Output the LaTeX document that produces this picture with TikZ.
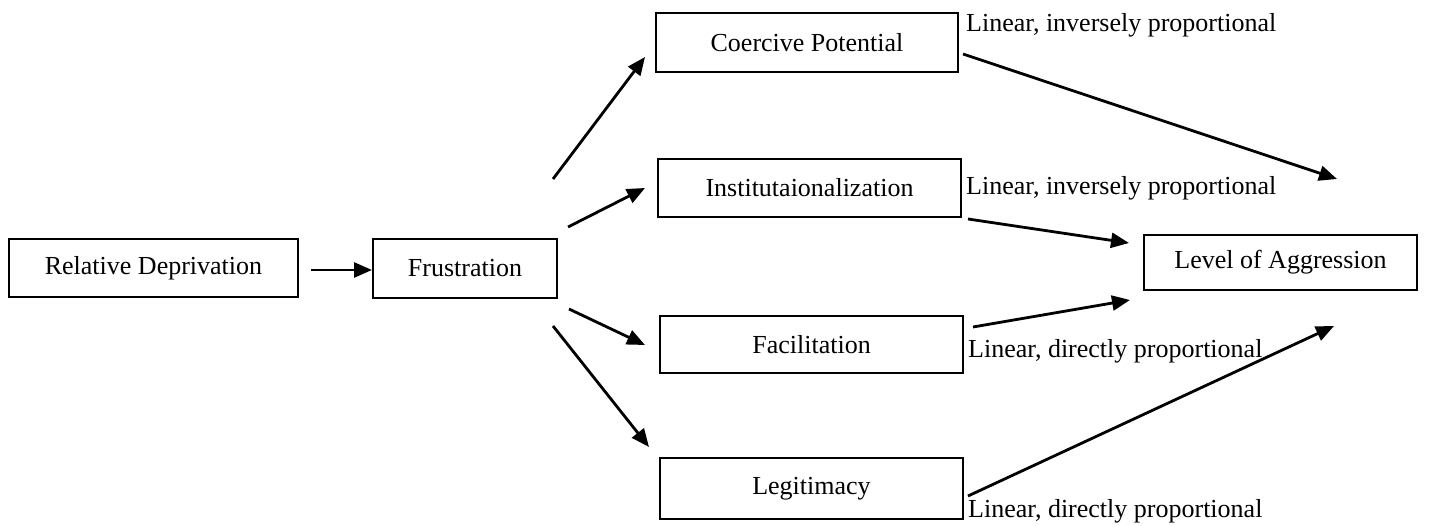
\documentclass[tikz,border=0pt]{standalone}
\usepackage{fontspec}
\setmainfont{Liberation Serif}
\usetikzlibrary{arrows.meta}
\begin{document}
\begin{tikzpicture}[x=1pt,y=-1pt,
  box/.style={draw, line width=1.8pt, inner sep=0pt, font=\fontsize{26}{30}\selectfont},
  lbl/.style={anchor=base west, inner sep=0pt, font=\fontsize{26}{30}\selectfont},
  arr/.style={line width=2.8pt, -{Triangle[length=18pt,width=15pt]}}]
\useasboundingbox (0,0) rectangle (1443,526);
% boxes
\node[box, minimum width=289pt, minimum height=58pt] (rd) at (153.5,268) {Relative Deprivation};
\node[box, minimum width=184pt, minimum height=59pt] (fr) at (465,268.5) {Frustration};
\node[box, minimum width=302pt, minimum height=59pt] (co) at (807,42.5) {Coercive Potential};
\node[box, minimum width=303pt, minimum height=58pt] (in) at (809.5,188) {Institutaionalization};
\node[box, minimum width=303pt, minimum height=57pt] (fa) at (811.5,344.5) {Facilitation};
\node[box, minimum width=303pt, minimum height=61pt] (le) at (811.5,488.5) {Legitimacy};
\node[box, minimum width=273pt, minimum height=55pt] (la) at (1280.5,262.5) {Level of Aggression};
% labels
\node[lbl] (l1) at (966,32) {Linear, inversely proportional};
\node[lbl] (l2) at (966,195) {Linear, inversely proportional};
\node[lbl] (l3) at (968,358) {Linear, directly proportional};
\node[lbl] (l4) at (968,517) {Linear, directly proportional};
% arrow end points
\coordinate (a0s) at (311,270);
\coordinate (a0e) at (372,270);
\coordinate (a1s) at (553,179);
\coordinate (a1e) at (645,57);
\coordinate (a2s) at (568,227);
\coordinate (a2e) at (645,188);
\coordinate (a3s) at (569,309);
\coordinate (a3e) at (645,345);
\coordinate (a4s) at (553,326);
\coordinate (a4e) at (649,447);
\coordinate (b1s) at (963,54);
\coordinate (b1e) at (1337,179);
\coordinate (b2s) at (968,219);
\coordinate (b2e) at (1129,243);
\coordinate (b3s) at (973,327);
\coordinate (b3e) at (1130,300);
\coordinate (b4s) at (968,496);
\coordinate (b4e) at (1334,326);
% arrows
\draw[arr] (a0s) -- (a0e);
\draw[arr] (a1s) -- (a1e);
\draw[arr] (a2s) -- (a2e);
\draw[arr] (a3s) -- (a3e);
\draw[arr] (a4s) -- (a4e);
\draw[arr] (b1s) -- (b1e);
\draw[arr] (b2s) -- (b2e);
\draw[arr] (b3s) -- (b3e);
\draw[arr] (b4s) -- (b4e);
\end{tikzpicture}
\end{document}
